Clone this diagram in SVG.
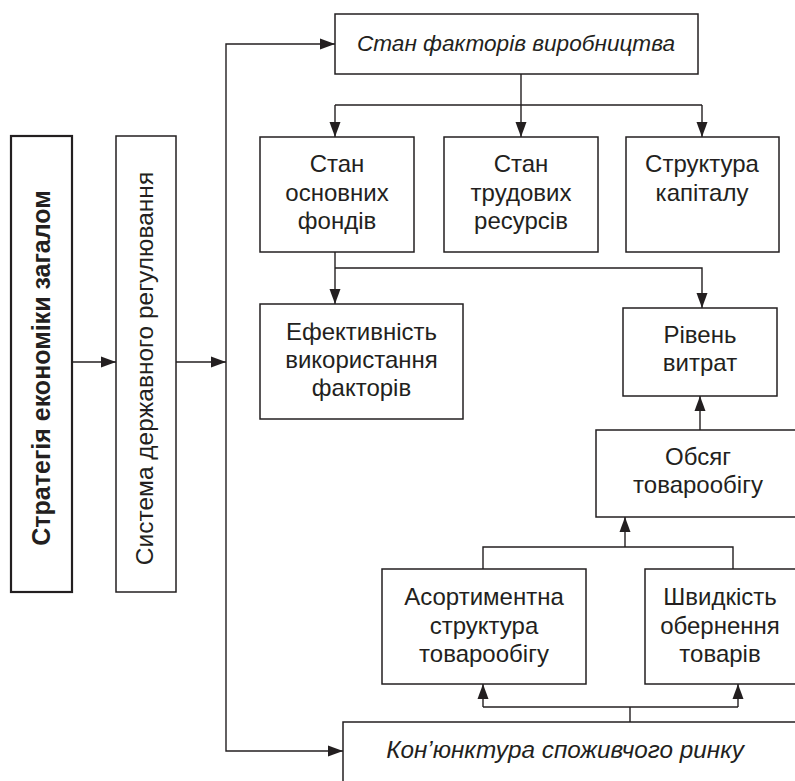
<svg xmlns="http://www.w3.org/2000/svg" width="795" height="781" viewBox="0 0 795 781">
<style>
.box{fill:#fff;stroke:#231f20;stroke-width:1.5}
.thick{fill:#fff;stroke:#231f20;stroke-width:2.2}
.t{font-family:"Liberation Sans",Arial,sans-serif;font-size:24px;fill:#231f20;text-anchor:middle}
.i{font-style:italic}
.b{font-weight:bold;font-size:25px}
.r{font-size:24.5px}
.c{fill:none;stroke:#231f20;stroke-width:1.4}
</style>
<defs>
<marker id="ah" markerUnits="userSpaceOnUse" markerWidth="15" markerHeight="12" refX="15" refY="6" orient="auto">
<path d="M0,0.5 L15,6 L0,11.5 z" fill="#231f20"/>
</marker>
</defs>
<rect width="795" height="781" fill="#fff"/>
<g id="connectors">
<path class="c" d="M72,362 H116" marker-end="url(#ah)"/>
<path class="c" d="M176,362 H226" marker-end="url(#ah)"/>
<path class="c" d="M226,400 V44 H335" marker-end="url(#ah)"/>
<path class="c" d="M226,400 V751 H343" marker-end="url(#ah)"/>
<path class="c" d="M521,74 V137" marker-end="url(#ah)"/>
<path class="c" d="M335,105 H702"/>
<path class="c" d="M335,105 V137" marker-end="url(#ah)"/>
<path class="c" d="M702,105 V137" marker-end="url(#ah)"/>
<path class="c" d="M335,252 V304" marker-end="url(#ah)"/>
<path class="c" d="M335,268 H702 V308" marker-end="url(#ah)"/>
<path class="c" d="M700,430 V396" marker-end="url(#ah)"/>
<path class="c" d="M625,547 V517" marker-end="url(#ah)"/>
<path class="c" d="M483,569 V547 H733 V569"/>
<path class="c" d="M630,722 V707"/>
<path class="c" d="M483,707 H738"/>
<path class="c" d="M483,707 V684" marker-end="url(#ah)"/>
<path class="c" d="M738,707 V684" marker-end="url(#ah)"/>
</g>
<g id="strategy">
<rect class="thick" x="11" y="136" width="61" height="456"/>
<text class="t b" transform="translate(50,368) rotate(-90)">Стратегія економіки загалом</text>
</g>
<g id="regulation">
<rect class="box" x="116" y="136" width="60" height="456"/>
<text class="t r" transform="translate(153,368.5) rotate(-90)">Система державного регулювання</text>
</g>
<g id="factors">
<rect class="box" x="335" y="14" width="363" height="60"/>
<text class="t i" x="516" y="51" style="font-size:22.6px">Стан факторів виробництва</text>
</g>
<g id="fixed-assets">
<rect class="box" x="260" y="137" width="154" height="115"/>
<text class="t" x="337" y="172">Стан</text>
<text class="t" x="337" y="200.5">основних</text>
<text class="t" x="337" y="229">фондів</text>
</g>
<g id="labour">
<rect class="box" x="444" y="137" width="154" height="115"/>
<text class="t" x="521" y="172">Стан</text>
<text class="t" x="521" y="200.5">трудових</text>
<text class="t" x="521" y="229">ресурсів</text>
</g>
<g id="capital">
<rect class="box" x="626" y="137" width="153" height="115"/>
<text class="t" x="702" y="172">Структура</text>
<text class="t" x="702" y="200.5">капіталу</text>
</g>
<g id="efficiency">
<rect class="box" x="260" y="304" width="203" height="115"/>
<text class="t" x="361.5" y="340">Ефективність</text>
<text class="t" x="361.5" y="368">використання</text>
<text class="t" x="361.5" y="396">факторів</text>
</g>
<g id="costs">
<rect class="box" x="623" y="308" width="154" height="88"/>
<text class="t" x="700" y="343">Рівень</text>
<text class="t" x="700" y="370.5">витрат</text>
</g>
<g id="turnover">
<rect class="box" x="596" y="430" width="210" height="87"/>
<text class="t" x="698" y="465">Обсяг</text>
<text class="t" x="698" y="493">товарообігу</text>
</g>
<g id="assortment">
<rect class="box" x="382" y="569" width="204" height="115"/>
<text class="t" x="484" y="605">Асортиментна</text>
<text class="t" x="484" y="633.5">структура</text>
<text class="t" x="484" y="662">товарообігу</text>
</g>
<g id="speed">
<rect class="box" x="645" y="569" width="160" height="115"/>
<text class="t" x="720" y="605">Швидкість</text>
<text class="t" x="720" y="633.5">обернення</text>
<text class="t" x="720" y="662">товарів</text>
</g>
<g id="market">
<rect class="box" x="343" y="722" width="470" height="80"/>
<text class="t i" x="565" y="758" style="font-size:24.3px">Кон’юнктура споживчого ринку</text>
</g>
</svg>
